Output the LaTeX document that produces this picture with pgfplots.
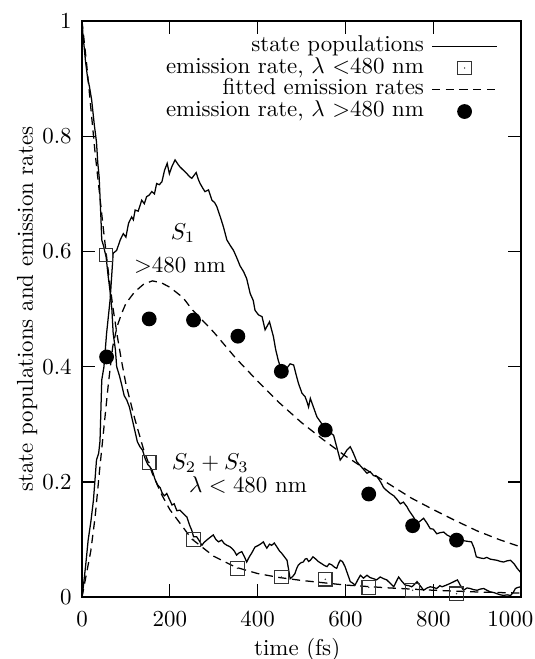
\documentclass[border=0pt]{standalone}
\usepackage{pgfplots}
\pgfplotsset{compat=1.18}
\pgfdeclareplotmark{sqdot}{%
  \pgfpathrectangle{\pgfpoint{-\pgfplotmarksize}{-\pgfplotmarksize}}{\pgfpoint{2\pgfplotmarksize}{2\pgfplotmarksize}}%
  \pgfusepathqstroke
  \pgfpathcircle{\pgfpointorigin}{0.35pt}\pgfusepathqfill
}
\begin{document}
\begin{tikzpicture}
\begin{axis}[
  scale only axis,
  width=191.7pt, height=251.5pt,
  xmin=0, xmax=1000, ymin=0, ymax=1,
  xtick={0,200,400,600,800,1000},
  xticklabels={0,200,400,600,800,{\hspace{-9.4pt}1000}},
  ytick={0,0.2,0.4,0.6,0.8,1},
  yticklabels={0,0.2,0.4,0.6,0.8,1},
  xticklabel shift=2.7pt,
  yticklabel shift=1pt,
  tick align=inside, xtick pos=both, ytick pos=both,
  major tick length=5.8pt,
  tick style={black, line width=0.5pt},
  axis line style={line width=0.6pt},
  xlabel={time (fs)},
  xlabel style={at={(rel axis cs:0.49,-0.1006)}, anchor=base},
  ylabel={state populations and emission rates},
  ylabel style={at={(rel axis cs:-0.1116,0.5)}, anchor=base},
  every axis plot/.append style={line width=0.55pt},
  legend image code/.code={\draw[mark repeat=2,mark phase=2,#1] plot coordinates {(0cm,0cm)(0.5cm,0cm)(1cm,0cm)};},
  legend style={draw=none, fill=none, at={(0.948,0.976)}, anchor=north east,
    inner sep=0pt, row sep=0pt, column sep=3.2pt,
    nodes={inner sep=0pt, text height=7pt, text depth=2.5pt}},
  legend cell align=right,
  legend plot pos=right,
  clip=true,
]
% S2+S3 population
\addplot[black, solid] coordinates {
(0,1.0)(2,0.978)(8,0.93)(13,0.90)(17,0.886)(22,0.863)(28,0.82)(33,0.79)(36,0.753)(39,0.73)
(43,0.66)(45,0.62)(49,0.61)(55,0.59)(59,0.561)(64,0.53)(68,0.50)(71,0.458)(76,0.43)(79,0.40)
(85,0.385)(90,0.37)(96,0.35)(102,0.342)(108,0.33)(114,0.31)(120,0.29)(126,0.27)(132,0.261)(138,0.255)
(144,0.24)(150,0.23)(155,0.226)(160,0.22)(166,0.205)(172,0.195)(178,0.19)(183,0.18)(188,0.176)(193,0.18)
(199,0.17)(205,0.16)(210,0.162)(216,0.15)(223,0.151)(231,0.145)(239,0.139)(245,0.125)(250,0.116)(254,0.105)
(261,0.105)(267,0.098)(273,0.09)(278,0.095)(284,0.099)(292,0.104)(299,0.108)(305,0.10)(311,0.096)(318,0.099)
(324,0.093)(330,0.09)(336,0.088)(341,0.085)(347,0.08)(352,0.073)(358,0.077)(364,0.079)(370,0.07)(375,0.061)
(381,0.07)(386,0.076)(394,0.087)(402,0.09)(408,0.093)(413,0.096)(417,0.09)(421,0.085)(427,0.092)(432,0.09)
(438,0.094)(444,0.087)(450,0.08)(455,0.076)(461,0.07)(467,0.064)(474,0.032)(480,0.036)(485,0.041)(489,0.05)
(493,0.056)(499,0.06)(504,0.061)(508,0.066)(512,0.067)(516,0.062)(520,0.064)(526,0.07)(531,0.067)(538,0.062)
(546,0.058)(552,0.055)(558,0.053)(563,0.058)(569,0.056)(575,0.052)(580,0.05)(584,0.058)(588,0.064)(593,0.062)
(599,0.053)(605,0.04)(611,0.027)(617,0.024)(622,0.021)(628,0.03)(634,0.038)(641,0.033)(649,0.038)(656,0.034)
(664,0.032)(671,0.03)(679,0.035)(687,0.032)(694,0.03)(702,0.024)(710,0.018)(715,0.026)(721,0.035)(728,0.028)
(736,0.021)(744,0.02)(751,0.018)(757,0.022)(763,0.027)(770,0.02)(778,0.012)(786,0.016)(793,0.018)(800,0.017)
(808,0.015)(815,0.02)(820,0.018)(830,0.021)(839,0.024)(847,0.027)(855,0.03)(862,0.02)(869,0.012)(877,0.016)
(884,0.015)(892,0.013)(900,0.012)(907,0.014)(915,0.015)(922,0.012)(930,0.009)(938,0.008)(945,0.006)(953,0.004)
(960,0.003)(968,0.004)(976,0.003)(982,0.008)(987,0.015)(993,0.017)(1000,0.018)
};
\addlegendentry{state populations}
% emission rate < 480 nm
\addplot[only marks, mark=sqdot, mark size=2.95pt, black!80, line width=0.5pt] coordinates {
(55,0.594)(153,0.234)(254,0.10)(354,0.05)(454,0.035)(554,0.031)(653,0.017)(753,0.012)(853,0.006)
};
\addlegendentry{emission rate, $\lambda$ $<$480 nm}
% fitted S2+S3
\addplot[black, dash pattern=on 3.6pt off 2.4pt] coordinates {
(0,1.0)(10,0.93)(20,0.85)(30,0.77)(40,0.70)(50,0.63)(60,0.565)(70,0.505)(80,0.455)(90,0.41)
(100,0.37)(120,0.31)(140,0.257)(160,0.215)(180,0.18)(200,0.152)(250,0.101)(300,0.071)(350,0.052)(400,0.041)
(450,0.034)(500,0.029)(600,0.021)(700,0.016)(800,0.012)(900,0.009)(1000,0.007)
};
\addlegendentry{fitted emission rates}
% emission rate > 480 nm
\addplot[only marks, mark=*, mark size=2.95pt, black] coordinates {
(56,0.417)(153,0.483)(254,0.481)(355,0.453)(454,0.392)(554,0.29)(653,0.179)(753,0.124)(853,0.099)
};
\addlegendentry{emission rate, $\lambda$ $>$480 nm}
% S1 population
\addplot[black, solid, forget plot] coordinates {
(0,0.0)(3,0.018)(9,0.06)(14,0.099)(20,0.13)(26,0.168)(33,0.238)(38,0.25)(41,0.271)(45,0.377)
(50,0.40)(56,0.458)(64,0.516)(71,0.597)(79,0.602)(87,0.62)(94,0.631)(100,0.625)(106,0.649)(113,0.66)
(117,0.655)(121,0.672)(128,0.67)(136,0.689)(142,0.683)(147,0.695)(153,0.698)(159,0.704)(165,0.70)(170,0.718)
(176,0.716)(182,0.721)(188,0.741)(194,0.753)(199,0.735)(205,0.748)(212,0.759)(218,0.752)(223,0.747)(231,0.741)
(239,0.735)(245,0.73)(250,0.727)(256,0.733)(260,0.737)(265,0.725)(269,0.718)(275,0.71)(280,0.704)(288,0.707)
(292,0.698)(296,0.689)(302,0.685)(307,0.678)(315,0.66)(322,0.643)(330,0.62)(338,0.61)(345,0.602)(352,0.59)
(360,0.575)(368,0.565)(375,0.553)(383,0.527)(390,0.515)(394,0.498)(402,0.49)(410,0.487)(417,0.464)(427,0.478)
(436,0.452)(441,0.43)(447,0.411)(454,0.395)(460,0.39)(467,0.398)(474,0.405)(482,0.403)(487,0.388)(493,0.371)
(501,0.354)(508,0.348)(512,0.34)(516,0.330)(520,0.345)(527,0.330)(535,0.313)(546,0.301)(553,0.29)(560,0.29)
(566,0.285)(573,0.281)(580,0.261)(588,0.238)(595,0.245)(603,0.255)(611,0.261)(618,0.25)(626,0.235)(634,0.228)
(641,0.222)(649,0.215)(656,0.218)(664,0.211)(672,0.209)(680,0.20)(687,0.19)(694,0.185)(702,0.18)(710,0.176)
(717,0.17)(725,0.162)(732,0.165)(740,0.157)(745,0.15)(755,0.139)(763,0.128)(770,0.132)(778,0.137)(786,0.128)
(793,0.119)(800,0.118)(808,0.11)(816,0.112)(824,0.113)(831,0.108)(839,0.105)(846,0.10)(853,0.098)(861,0.099)
(869,0.098)(877,0.097)(887,0.096)(893,0.085)(898,0.07)(907,0.068)(915,0.067)(922,0.069)(930,0.066)(937,0.065)
(945,0.064)(953,0.062)(960,0.061)(968,0.063)(976,0.064)(984,0.058)(991,0.05)(1000,0.042)
};
% fitted S1
\addplot[black, dash pattern=on 3.6pt off 2.4pt, forget plot] coordinates {
(0,0.0)(10,0.04)(20,0.08)(30,0.14)(40,0.22)(50,0.295)(60,0.37)(70,0.435)(80,0.47)(90,0.492)
(100,0.51)(120,0.53)(140,0.543)(160,0.549)(180,0.546)(200,0.538)(230,0.52)(250,0.50)(300,0.46)(350,0.415)
(400,0.375)(450,0.337)(500,0.303)(550,0.273)(600,0.245)(650,0.22)(700,0.196)(750,0.172)(800,0.152)(850,0.133)
(900,0.115)(950,0.10)(1000,0.087)
};
\node at (axis cs:230,0.632) {$S_1$};
\node at (axis cs:223,0.576) {$>$480 nm};
\node at (axis cs:292,0.233) {$S_2+S_3$};
\node at (axis cs:378,0.194) {$\lambda<480$ nm};
\end{axis}
\pgfresetboundingbox
\path ([xshift=-35.8pt,yshift=-27pt]current axis.south west) rectangle ([xshift=5.7pt,yshift=9.2pt]current axis.north east);
\end{tikzpicture}
\end{document}
